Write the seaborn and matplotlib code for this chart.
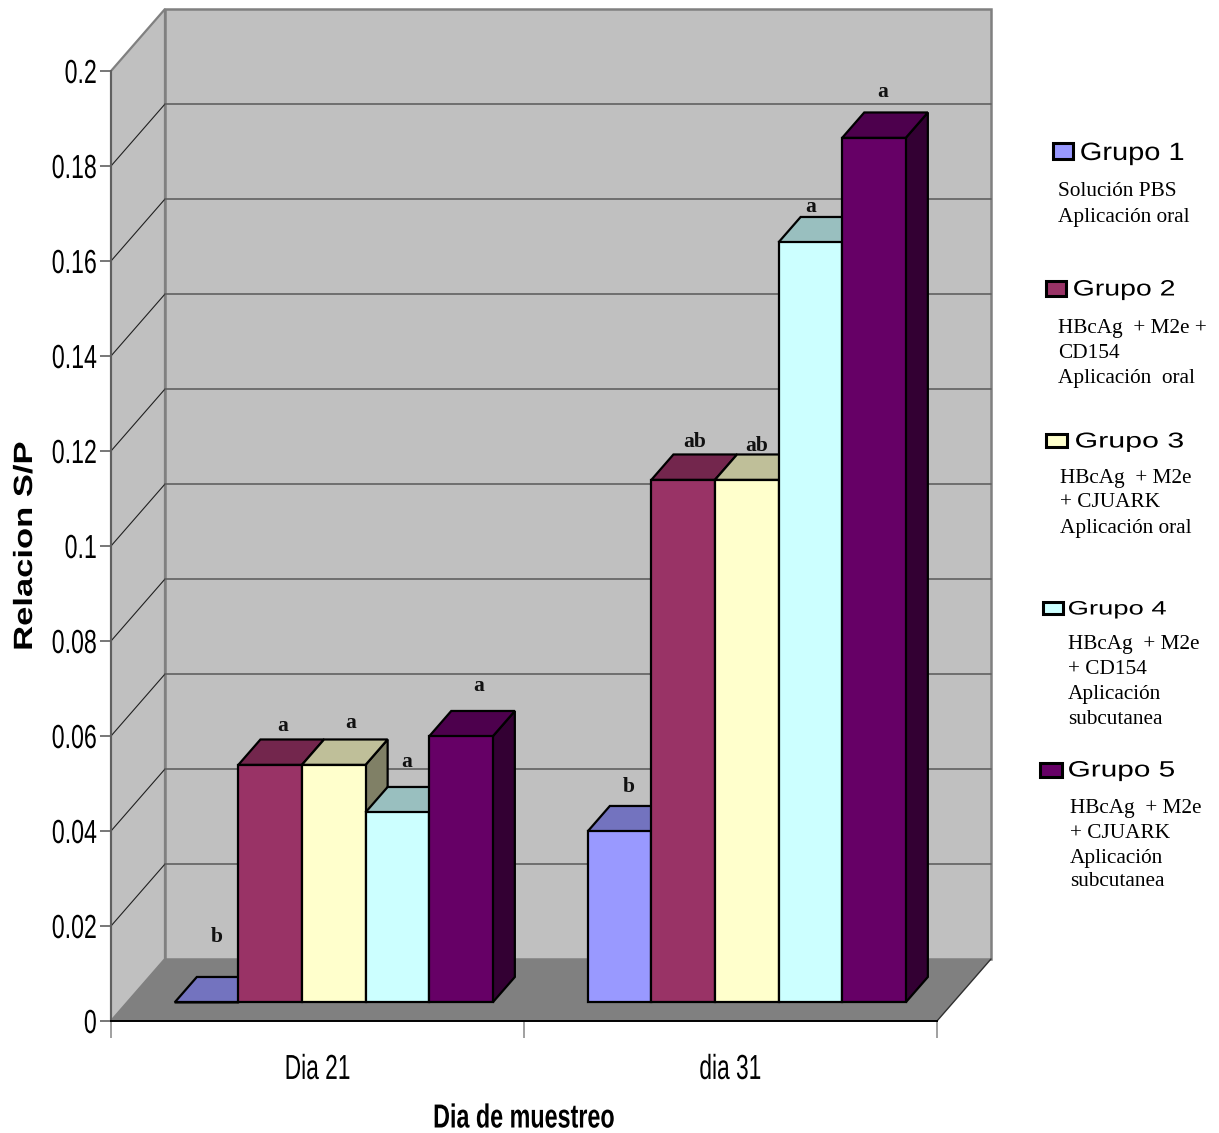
import matplotlib
matplotlib.use("Agg")
import matplotlib.pyplot as plt
import matplotlib.patheffects as pe
import pandas as pd
import seaborn as sns
from matplotlib.patches import Polygon, Rectangle
from matplotlib.colors import to_rgb
from matplotlib.transforms import Affine2D

# ---- chart data ----
days = ["Dia 21", "dia 31"]
groups = ["Grupo 1", "Grupo 2", "Grupo 3", "Grupo 4", "Grupo 5"]
dia21_values = [0.0, 0.05, 0.05, 0.04, 0.056]
dia31_values = [0.036, 0.11, 0.11, 0.16, 0.182]
dia21_letters = ["b", "a", "a", "a", "a"]
dia31_letters = ["b", "ab", "ab", "a", "a"]
y_ticks = [0, 0.02, 0.04, 0.06, 0.08, 0.1, 0.12, 0.14, 0.16, 0.18, 0.2]
y_tick_labels = ["0", "0.02", "0.04", "0.06", "0.08", "0.1", "0.12", "0.14", "0.16", "0.18", "0.2"]
group_colors = ["#9999FF", "#993366", "#FFFFCC", "#CCFFFF", "#660066"]
group_notes = [
    ["Solución PBS", "Aplicación oral"],
    ["HBcAg  + M2e +", "CD154", "Aplicación  oral"],
    ["HBcAg  + M2e", "+ CJUARK", "Aplicación oral"],
    ["HBcAg  + M2e", "+ CD154", "Aplicación", "subcutanea"],
    ["HBcAg  + M2e", "+ CJUARK", "Aplicación", "subcutanea"],
]

# ---- canvas and pseudo-3D layout ----
W, H = 1219, 1133
DPI = 100
sns.set_theme(style="white")
plt.rcParams["font.family"] = ["Liberation Sans", "DejaVu Sans"]
fig = plt.figure(figsize=(W / DPI, H / DPI), dpi=DPI, facecolor="white")


class Stretch(pe.AbstractPathEffect):
    """Widen or narrow a text run along its own baseline, about a pivot (0 left, 0.5 middle, 1 right)."""

    def __init__(self, factor, pivot=0.0):
        super().__init__()
        self.factor = factor
        self.pivot = pivot

    def draw_path(self, renderer, gc, tpath, affine, rgbFace=None):
        box = tpath.get_extents()
        origin = box.x0 + self.pivot * (box.x1 - box.x0)
        squeeze = Affine2D().translate(-origin, 0).scale(self.factor, 1).translate(origin, 0)
        renderer.draw_path(gc, tpath, squeeze + affine, rgbFace)


def fx(px):
    return px / W


def fy(py):
    return 1 - py / H


LEFT, RIGHT, TOP, BOTTOM = 111, 937, 71, 1021
ax = fig.add_axes([fx(LEFT), fy(BOTTOM), fx(RIGHT - LEFT), (BOTTOM - TOP) / H])
ax.patch.set_visible(False)

EDGE_LW = 1.6
frame = pd.DataFrame({
    "Dia": [d for d in days for _ in groups],
    "Grupo": groups * 2,
    "Relacion": dia21_values + dia31_values,
})
sns.barplot(data=frame, x="Dia", y="Relacion", hue="Grupo", order=days, hue_order=groups,
            palette=group_colors, width=0.77, gap=0, saturation=1, errorbar=None,
            edgecolor="black", linewidth=EDGE_LW, legend=False, ax=ax)
bars = sorted((p for p in ax.patches if isinstance(p, Rectangle)), key=lambda b: b.get_x())
ax.set_xlim(-0.5, 1.5)
ax.set_ylim(0, 0.2)

# One unit of depth moves a point 54 px right and 62 px up on the canvas.
DEPTH_X = 54 / 413
DEPTH_Y = 62 / 4750
BAR_FRONT = 0.30
BAR_BACK = 0.71


def project(x, v, d):
    return (x + d * DEPTH_X, v + d * DEPTH_Y)


def shade(color, k):
    return tuple(c * k for c in to_rgb(color))


def face(points, z, **kw):
    ax.add_patch(Polygon(points, closed=True, clip_on=False, zorder=z, joinstyle="miter", **kw))


# ---- walls and floor ----
WALL = "#C0C0C0"
EDGE = "#808080"
x0, x1 = ax.get_xlim()
y0, y1 = ax.get_ylim()
face([project(x0, y0, 0), project(x0, y1, 0), project(x0, y1, 1), project(x0, y0, 1)], 0.5,
     facecolor=WALL, edgecolor=EDGE, linewidth=1.6)
face([project(x0, y0, 1), project(x0, y1, 1), project(x1, y1, 1), project(x1, y0, 1)], 0.6,
     facecolor=WALL, edgecolor=EDGE, linewidth=1.8)
face([project(x0, y0, 0), project(x1, y0, 0), project(x1, y0, 1), project(x0, y0, 1)], 0.7,
     facecolor="#808080", edgecolor="none")
ax.plot(*zip(project(x1, y0, 0), project(x1, y0, 1)), color="#303030", lw=1.0, clip_on=False, zorder=0.8)

for tick in y_ticks[1:-1]:
    ax.plot(*zip(project(x0, tick, 0), project(x0, tick, 1)), color="#202020", lw=0.8,
            clip_on=False, zorder=0.8)
    ax.plot(*zip(project(x0, tick, 1), project(x1, tick, 1)), color="#606060", lw=1.2,
            clip_on=False, zorder=0.8)

# ---- bars: seaborn draws the fronts, sides and tops are added behind them ----
all_letters = dia21_letters + dia31_letters
letter_shift = [(-1, 53), (2, 26), (6, 29), (-2, 38), (7, 38),
                (-2, 32), (1, 25), (-1, 21), (-11, 23), (-2, 33)]
values = dia21_values + dia31_values
for i, bar in enumerate(bars):
    x, w = bar.get_x(), bar.get_width()
    value = values[i]
    color = group_colors[i % len(groups)]
    z = 3 + i
    line = dict(edgecolor="black", linewidth=EDGE_LW)
    face([project(x + w, 0, BAR_FRONT), project(x + w, value, BAR_FRONT),
          project(x + w, value, BAR_BACK), project(x + w, 0, BAR_BACK)], z,
         facecolor=shade(color, 0.5), **line)
    face([project(x, value, BAR_FRONT), project(x + w, value, BAR_FRONT),
          project(x + w, value, BAR_BACK), project(x, value, BAR_BACK)], z + 0.1,
         facecolor=shade(color, 0.75), **line)
    bar.set_x(x + BAR_FRONT * DEPTH_X)
    bar.set_y(BAR_FRONT * DEPTH_Y)
    bar.set_clip_on(False)
    bar.set_zorder(z + 0.2)
    bar.set_joinstyle("miter")
    anchor = project(x + w / 2, value, (BAR_FRONT + BAR_BACK) / 2)
    ax.annotate(all_letters[i], xy=anchor, xytext=letter_shift[i], textcoords="offset pixels",
                ha="center", va="center", family="Liberation Serif", weight="bold",
                fontsize=15.5, color="#111111", zorder=40, annotation_clip=False)

# ---- axes furniture ----
sns.despine(ax=ax, top=True, right=True)
ax.spines["left"].set_color("#606060")
ax.spines["left"].set_linewidth(1.4)
ax.spines["bottom"].set_color("black")
ax.spines["bottom"].set_linewidth(1.4)
ax.spines["left"].set_zorder(2)
ax.spines["bottom"].set_zorder(2)
ax.set_yticks(y_ticks, labels=y_tick_labels)
ax.tick_params(axis="y", which="major", left=True, length=8, width=1.2, color="#606060",
               pad=2, labelsize=24, labelcolor="black")
ax.set_xticks([-0.5, 0.5, 1.5], labels=["", "", ""])
ax.set_xticks([0, 1], labels=days, minor=True)
ax.tick_params(axis="x", which="major", bottom=True, length=12, width=1.2, color="#909090")
ax.tick_params(axis="x", which="minor", bottom=False, length=0, pad=23, labelsize=25,
               labelcolor="black")
for label in ax.get_yticklabels():
    label.set_path_effects([Stretch(0.695, 1.0)])
for label in ax.get_xticklabels(minor=True):
    label.set_path_effects([Stretch(0.655, 0.5)])

ax.set_xlabel("Dia de muestreo", fontsize=24, fontweight="bold", color="black", va="center",
              path_effects=[Stretch(0.70, 0.5)])
ax.xaxis.set_label_coords(0.5, -(1119 - BOTTOM) / (BOTTOM - TOP))
ax.set_ylabel("Relacion S/P", fontsize=19, fontweight="bold", color="black", va="center",
              path_effects=[Stretch(1.31, 0.5)])
ax.yaxis.set_label_coords((25 - LEFT) / (RIGHT - LEFT), 0.5)

# ---- legend column built by hand ----
swatches = [(1053, 143, 20, 16), (1046, 281, 20, 15), (1046, 434, 21, 13),
            (1043, 602, 20, 12), (1040, 763, 22, 14)]
title_xy = [(1080, 153, 18.0, 1.16), (1073, 290, 16.0, 1.28), (1075, 442, 15.5, 1.41),
            (1068, 610, 14.0, 1.41), (1068, 771, 16.0, 1.34)]
note_xy = [(1058, [192, 217]), (1058, [328, 353, 378]), (1060, [478, 503, 528]),
           (1068, [645, 669, 694, 719]), (1070, [808, 833, 858, 882])]
for k, name in enumerate(groups):
    sx, sy, sw, sh = swatches[k]
    fig.add_artist(Rectangle((fx(sx), fy(sy + sh)), sw / W, sh / H, transform=fig.transFigure,
                             facecolor=group_colors[k], edgecolor="black", linewidth=2.2))
    tx, ty, ts, stretch = title_xy[k]
    fig.text(fx(tx), fy(ty), name, ha="left", va="center", fontsize=ts, color="black",
             path_effects=[Stretch(stretch, 0.0)])
    nx, ys = note_xy[k]
    for txt, ny in zip(group_notes[k], ys):
        fig.text(fx(nx), fy(ny), txt, ha="left", va="center", fontsize=15.3, color="black",
                 family=["Liberation Serif"])

fig.savefig("out.png", dpi=DPI, facecolor="white")
